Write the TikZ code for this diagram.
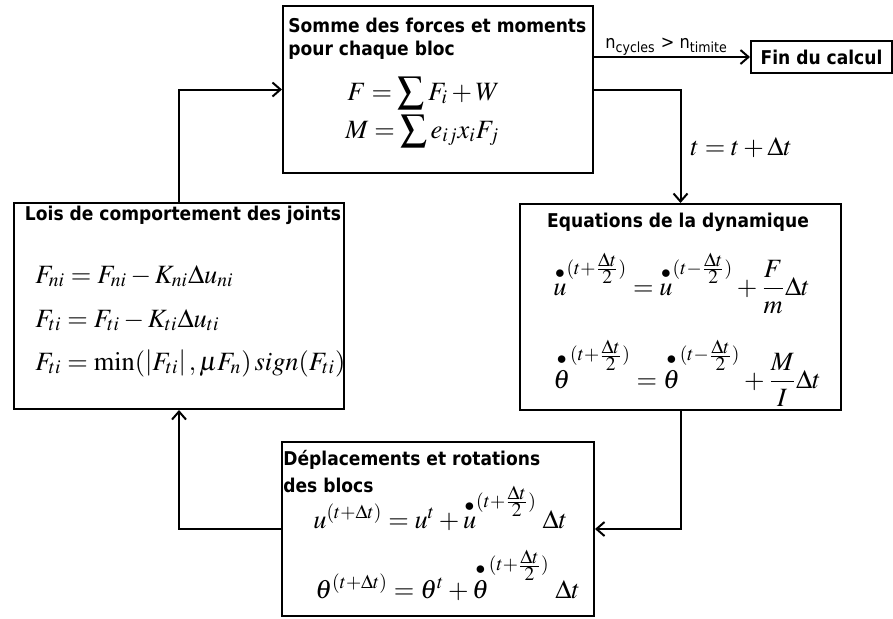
\documentclass[tikz,border=0pt]{standalone}
\usepackage{mathptmx}
\usepackage{amsmath}
\usepackage[no-math]{fontspec}
\newfontfamily\boxfont[FakeStretch=0.9]{DejaVu Sans}
\usetikzlibrary{arrows.meta}
\newcommand{\vit}[1]{\overset{\bullet}{#1}}
\newcommand{\demi}{\frac{\scriptstyle\Delta t}{\scriptstyle 2}}
\tikzset{
  bloc/.style={draw, line width=1pt, inner sep=0pt, anchor=north west},
  titre/.style={font=\boxfont\bfseries\fontsize{9.5}{12}\selectfont, inner sep=0pt},
  eqn/.style={font=\fontsize{13.2}{15}\selectfont, inner sep=0pt, anchor=base west},
  fleche/.style={-{Straight Barb[length=4pt,width=7pt]}, line width=1pt}
}
\begin{document}
\begin{tikzpicture}[x=0.5pt, y=-0.5pt]
  \useasboundingbox (0,0) rectangle (893,618);

  % blocs
  \node[bloc, minimum width=155pt, minimum height=83.5pt] (somme) at (282,5) {};
  \node[bloc, titre, minimum width=70.5pt, minimum height=16pt, anchor=center] (fin) at (821.5,57) {Fin du calcul};
  \node[bloc, minimum width=160.5pt, minimum height=103pt] (dyn) at (519,203) {};
  \node[bloc, minimum width=165pt, minimum height=103pt] (lois) at (13,202) {};
  \node[bloc, minimum width=156pt, minimum height=87pt] (depl) at (281,441) {};

  % somme des forces
  \node[titre, anchor=base west] (sommeT1) at (288,32) {Somme des forces et moments};
  \node[titre, anchor=base west] (sommeT2) at (288,55) {pour chaque bloc};
  \node[eqn] (sommeE1) at (347,100) {$F=\displaystyle\sum F_i+W$};
  \node[eqn] (sommeE2) at (345,138) {$M=\displaystyle\sum e_{ij}x_iF_j$};

  % dynamique
  \node[titre, anchor=base] (dynT) at (678,227) {Equations de la dynamique};
  \node[eqn] (dynE1) at (553,295) {$\vit{u}^{(t+\demi)}=\vit{u}^{(t-\demi)}+\dfrac{F}{m}\Delta t$};
  \node[eqn] (dynE2) at (553,388) {$\vit{\theta}^{(t+\demi)}=\vit{\theta}^{(t-\demi)}+\dfrac{M}{I}\Delta t$};

  % lois des joints
  \node[titre, anchor=base] (loisT) at (183,220) {Lois de comportement des joints};
  \node[eqn] (loisE1) at (35,283) {$F_{ni}=F_{ni}-K_{ni}\Delta u_{ni}$};
  \node[eqn] (loisE2) at (35,327) {$F_{ti}=F_{ti}-K_{ti}\Delta u_{ti}$};
  \node[eqn] (loisE3) at (35,370) {$F_{ti}=\min(\left|F_{ti}\right|,\mu F_n)\,sign(F_{ti})$};

  % deplacements
  \node[titre, anchor=base west] (deplT1) at (283,465) {Déplacements et rotations};
  \node[titre, anchor=base west] (deplT2) at (283,492) {des blocs};
  \node[eqn] (deplE1) at (313,528) {$u^{(t+\Delta t)}=u^t+\vit{u}^{(t+\demi)}\;\Delta t$};
  \node[eqn] (deplE2) at (315,598) {$\theta^{(t+\Delta t)}=\theta^t+\vit{\theta}^{(t+\demi)}\;\Delta t$};

  % labels
  \node[inner sep=0pt, anchor=base west, font=\boxfont\fontsize{9}{11}\selectfont] (cycles) at (605,48) {n\textsubscript{cycles} > n\textsubscript{timite}};
  \node[eqn] (pas) at (690,155) {$t=t+\Delta t$};

  % boucle
  \draw[fleche] (fin.west -| somme.east) -- (fin.west);
  \draw[fleche] (somme.east) -| (dyn.north);
  \draw[fleche] (dyn.south) |- (depl.east);
  \draw[fleche] (depl.west) -| (lois.south);
  \draw[fleche] (lois.north) |- (somme.west);
\end{tikzpicture}
\end{document}
